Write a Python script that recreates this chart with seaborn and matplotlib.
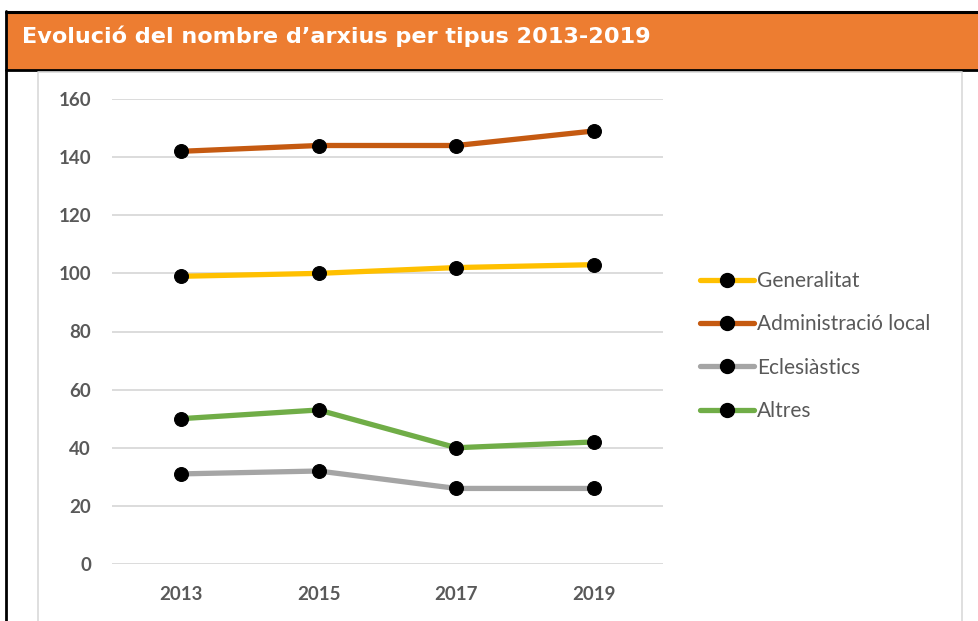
import matplotlib
matplotlib.use("Agg")
import matplotlib.pyplot as plt
from matplotlib.patches import Rectangle
from matplotlib.lines import Line2D
import seaborn as sns
import pandas as pd

# ── Data ────────────────────────────────────
years        = ["2013", "2015", "2017", "2019"]
generalitat  = [99, 100, 102, 103]
admin_local  = [142, 144, 144, 149]
eclesiastics = [31, 32, 26, 26]
altres       = [50, 53, 40, 42]

series_names = ["Generalitat", "Administració local", "Eclesiàstics", "Altres"]
series_vals  = [generalitat, admin_local, eclesiastics, altres]
colors       = ["#FFC000", "#C55A11", "#A5A5A5", "#70AD47"]
y_ticks      = [0, 20, 40, 60, 80, 100, 120, 140, 160]
title        = "Evolució del nombre d’arxius per tipus 2013-2019"

rows = []
for name, vals in zip(series_names, series_vals):
    for yr, v in zip(years, vals):
        rows.append({"any": yr, "valor": v, "tipus": name})
df = pd.DataFrame(rows)

# ── Figure ──────────────────────────────────
W, H = 979, 621
sns.set_style("white")
plt.rcParams["font.family"] = ["Lato", "DejaVu Sans"]

fig = plt.figure(figsize=(W / 100, H / 100), dpi=100)

def fx(px):
    return px / W

def fy(py):
    return 1 - py / H

# header band + frame
fig.patches.append(Rectangle((fx(6), fy(70)), fx(979 - 6), (70 - 12) / H,
                             transform=fig.transFigure, facecolor="#ED7D31",
                             edgecolor="none", zorder=0))
fig.add_artist(Line2D([fx(6), 1], [fy(12), fy(12)], color="black", lw=2.2))
fig.add_artist(Line2D([fx(6), 1], [fy(69.5), fy(69.5)], color="black", lw=2))
fig.add_artist(Line2D([fx(6), fx(6)], [fy(11), 0], color="black", lw=2))
# inner chart box
fig.add_artist(Line2D([fx(38), fx(38), fx(962), fx(962)],
                      [0, fy(71.5), fy(71.5), 0], color="#D9D9D9", lw=1.2))

fig.text(fx(22), fy(36), title, color="white", fontsize=16.1,
         fontweight="bold", family=["DejaVu Sans"],
         va="center", ha="left")

ax = fig.add_axes([fx(112), fy(564), fx(663 - 112), (564 - 99) / H])
sns.lineplot(data=df, x="any", y="valor", hue="tipus", palette=colors,
             hue_order=series_names, sort=False, linewidth=3.8,
             marker="o", markersize=10, markerfacecolor="black",
             markeredgecolor="black", legend=False, ax=ax, clip_on=False)

ax.set_xlim(-0.5, 3.5)
ax.set_ylim(0, 160)
ax.set_yticks(y_ticks)
ax.set_xlabel("")
ax.set_ylabel("")
ax.grid(axis="y", color="#D9D9D9", lw=1.3)
ax.set_axisbelow(True)
for s in ax.spines.values():
    s.set_visible(False)
ax.tick_params(axis="both", length=0, labelsize=13.5, labelcolor="#595959")
ax.tick_params(axis="y", pad=15)
ax.tick_params(axis="x", pad=16)
for lab in ax.get_xticklabels() + ax.get_yticklabels():
    lab.set_fontweight("bold")

handles = [Line2D([], [], color=c, lw=3.8, marker="o", markersize=10,
                  markerfacecolor="black", markeredgecolor="black")
           for c in colors]
fig.legend(handles, series_names, loc="center left",
           bbox_to_anchor=(fx(700), fy(346)), frameon=False, fontsize=15,
           labelcolor="#595959", handlelength=2.6, handletextpad=0.15,
           labelspacing=1.12, borderpad=0, borderaxespad=0)

fig.savefig("out.png", dpi=100)
